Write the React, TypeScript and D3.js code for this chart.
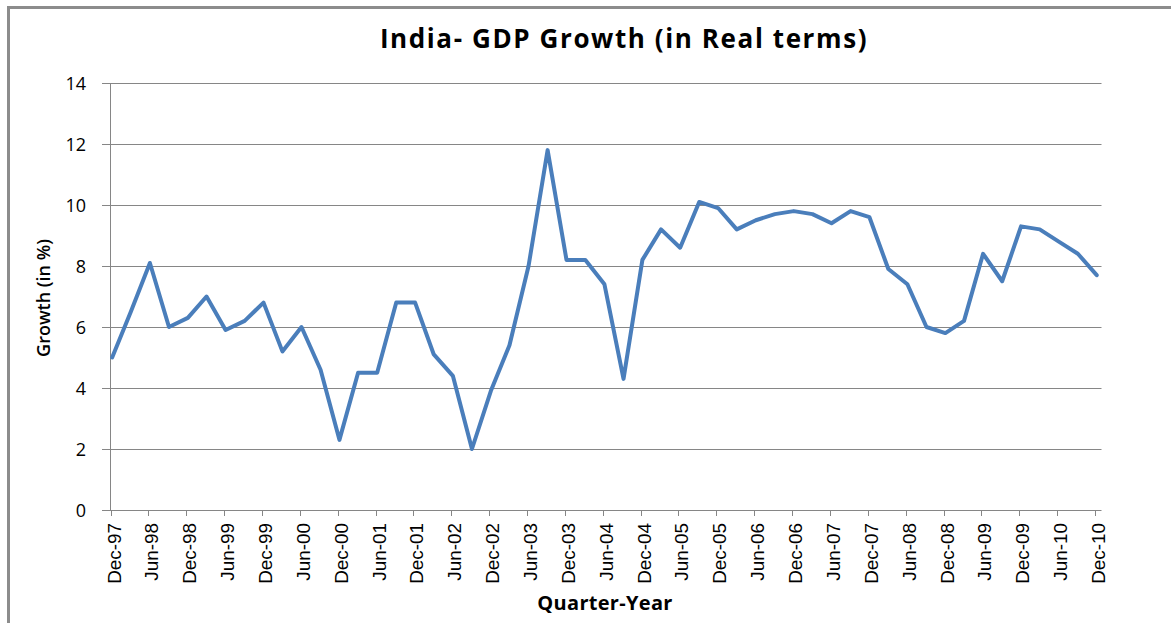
import React from "react"
import * as d3 from "d3"

// quarter-end labels, Dec-97 .. Dec-10
const quarters = [
  "Dec-97", "Mar-98", "Jun-98", "Sep-98", "Dec-98", "Mar-99", "Jun-99", "Sep-99",
  "Dec-99", "Mar-00", "Jun-00", "Sep-00", "Dec-00", "Mar-01", "Jun-01", "Sep-01",
  "Dec-01", "Mar-02", "Jun-02", "Sep-02", "Dec-02", "Mar-03", "Jun-03", "Sep-03",
  "Dec-03", "Mar-04", "Jun-04", "Sep-04", "Dec-04", "Mar-05", "Jun-05", "Sep-05",
  "Dec-05", "Mar-06", "Jun-06", "Sep-06", "Dec-06", "Mar-07", "Jun-07", "Sep-07",
  "Dec-07", "Mar-08", "Jun-08", "Sep-08", "Dec-08", "Mar-09", "Jun-09", "Sep-09",
  "Dec-09", "Mar-10", "Jun-10", "Sep-10", "Dec-10",
]

// real GDP growth, %
const growth = [
  5.0, 6.5, 8.1, 6.0, 6.3, 7.0, 5.9, 6.2,
  6.8, 5.2, 6.0, 4.6, 2.3, 4.5, 4.5, 6.8,
  6.8, 5.1, 4.4, 2.0, 3.9, 5.4, 8.0, 11.8,
  8.2, 8.2, 7.4, 4.3, 8.2, 9.2, 8.6, 10.1,
  9.9, 9.2, 9.5, 9.7, 9.8, 9.7, 9.4, 9.8,
  9.6, 7.9, 7.4, 6.0, 5.8, 6.2, 8.4, 7.5,
  9.3, 9.2, 8.8, 8.4, 7.7,
]

const yTicks = [0, 2, 4, 6, 8, 10, 12, 14]

const W = 1171
const H = 623
const left = 110.5
const right = 1101.5
const top = 83
const bottom = 510

const parseQ = d3.timeParse("%b-%y")

export default function App() {
  const x = d3.scaleTime()
    .domain([new Date(1997, 11, 1), new Date(2011, 0, 1)])
    .range([left, right])

  const y = d3.scaleLinear()
    .domain([0, 14])
    .range([bottom, top])

  const data = quarters.map((q, i) => ({
    date: d3.timeDay.offset(parseQ(q) as Date, 8),
    value: growth[i],
  }))

  const line = d3.line<{ date: Date; value: number }>()
    .x(d => x(d.date))
    .y(d => y(d.value))

  // labelled every second quarter (Dec, Jun)
  const xTickLabels = quarters.filter((_, i) => i % 2 === 0)

  return (
    <svg width={W} height={H} style={{ position: "absolute", left: 0, top: 0 }}>
      <rect x={0} y={0} width={W} height={H} fill="#fff" />
      <rect x={8.5} y={7.5} width={W + 20} height={H + 20} fill="none" stroke="#8c8c8c" strokeWidth={3} />

      <text x={624} y={48} textAnchor="middle" fontFamily="Open Sans" fontWeight="bold" fontSize={26} letterSpacing={1.6} fill="#000">
        India- GDP Growth (in Real terms)
      </text>

      {yTicks.map(t => (
        <g key={t}>
          <line x1={102} x2={right} y1={Math.round(y(t)) + 0.5} y2={Math.round(y(t)) + 0.5} stroke="#868686" strokeWidth={1} />
          <text x={86} y={y(t)} textAnchor="end" dominantBaseline="central" fontFamily="Open Sans" fontSize={18} fill="#000">
            {t}
          </text>
        </g>
      ))}

      <line x1={left} x2={left} y1={top} y2={bottom} stroke="#868686" strokeWidth={1} />

      {xTickLabels.map(q => {
        const xp = Math.round(x(parseQ(q) as Date)) + 0.5
        return (
          <g key={q}>
            <line x1={xp} x2={xp} y1={bottom} y2={bottom + 6} stroke="#868686" strokeWidth={1} />
            <text transform={`translate(${xp + 3},${bottom + 13}) rotate(-90) scale(1.05,1)`} textAnchor="end" dominantBaseline="central" fontFamily="Liberation Sans" fontSize={18} fill="#000">
              {q}
            </text>
          </g>
        )
      })}

      <path d={line(data) ?? ""} fill="none" stroke="#4a7ebb" strokeWidth={4} strokeLinejoin="round" strokeLinecap="round" />

      <text transform="translate(43,298) rotate(-90)" textAnchor="middle" dominantBaseline="central" fontFamily="Open Sans" fontWeight={600} fontSize={18} fill="#000">
        Growth (in %)
      </text>
      <text x={605} y={610} textAnchor="middle" fontFamily="Open Sans" fontWeight="bold" fontSize={20} letterSpacing={0.3} fill="#000">
        Quarter-Year
      </text>
    </svg>
  )
}
